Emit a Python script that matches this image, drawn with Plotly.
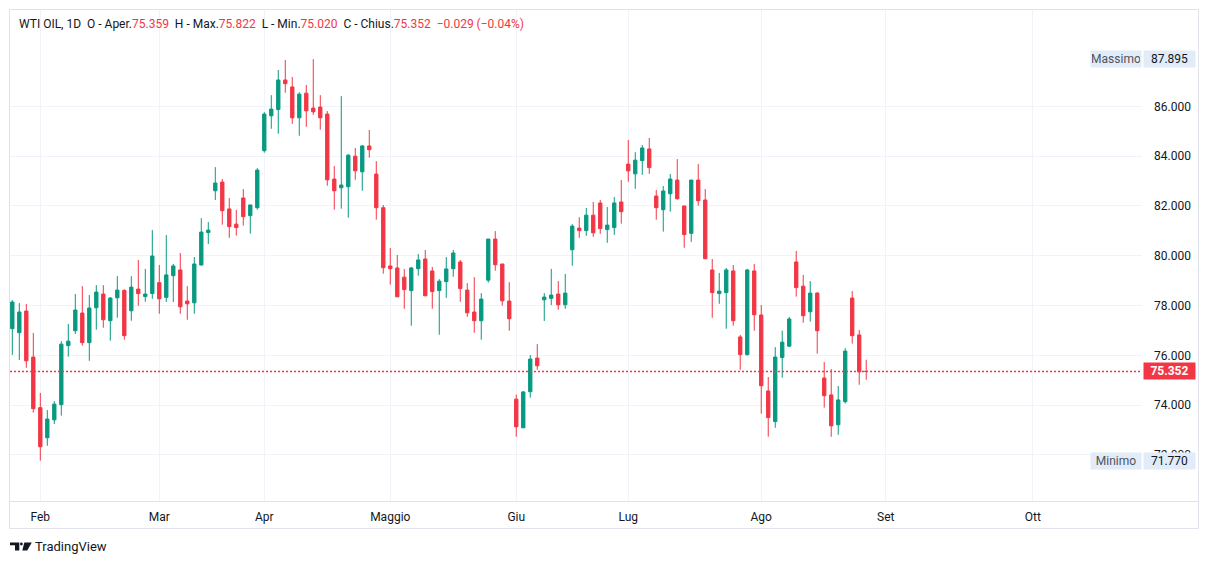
import plotly.graph_objects as go

# ---------------- data (daily bars) ----------------
opens = [77.07, 76.91, 77.78, 75.93, 73.90, 72.69, 73.41, 74.02, 76.39, 76.99,
         77.70, 76.51, 77.91, 78.46, 77.39, 78.31, 78.61, 77.79, 78.66, 78.36,
         78.48, 78.92, 78.33, 79.20, 79.43, 78.18, 78.11, 79.63, 80.93, 82.61,
         82.96, 81.88, 81.27, 82.32, 81.61, 81.93, 84.22, 85.62, 85.87, 87.06,
         86.78, 85.54, 86.53, 85.93, 85.97, 85.69, 83.08, 82.73, 82.77, 84.00,
         83.37, 84.41, 83.28, 81.93, 79.59, 79.51, 79.14, 78.60, 79.48, 79.87,
         79.39, 78.60, 78.96, 79.48, 79.75, 78.62, 77.74, 77.39, 79.02, 80.67,
         79.67, 78.18, 74.24, 73.09, 74.54, 75.89, 78.23, 78.29, 78.46, 78.03,
         80.24, 81.11, 81.01, 81.63, 82.12, 81.05, 81.13, 82.16, 83.68, 83.29,
         83.82, 84.29, 82.40, 81.85, 82.49, 83.04, 82.00, 80.90, 83.04, 82.24,
         79.43, 78.48, 78.52, 79.39, 76.74, 76.03, 79.39, 77.62, 74.57, 73.34,
         75.91, 76.37, 79.75, 78.78, 77.75, 78.50, 75.09, 74.41, 73.21, 74.14,
         78.30, 76.82, 75.359]
highs = [78.22, 78.10, 78.06, 76.90, 74.49, 73.80, 74.16, 76.57, 77.26, 78.46,
         78.78, 78.42, 78.82, 78.82, 78.34, 79.18, 78.65, 79.18, 79.83, 79.47,
         81.03, 79.63, 80.83, 79.67, 80.11, 78.78, 79.95, 81.51, 81.35, 83.56,
         83.08, 82.32, 81.84, 82.68, 82.04, 83.52, 85.77, 86.45, 87.46, 87.86,
         87.18, 86.57, 86.86, 87.895, 86.45, 85.81, 83.60, 86.41, 84.08, 84.33,
         84.45, 85.05, 83.80, 82.04, 80.31, 80.03, 79.47, 79.55, 80.07, 80.23,
         79.55, 79.06, 79.95, 80.23, 79.83, 78.90, 79.14, 78.50, 80.67, 80.99,
         79.67, 78.94, 74.42, 74.57, 76.01, 76.45, 78.50, 79.47, 78.98, 79.27,
         81.27, 81.55, 81.92, 82.16, 82.24, 81.96, 82.36, 83.04, 84.65, 84.16,
         84.45, 84.73, 82.64, 82.80, 83.28, 83.88, 82.00, 83.04, 83.68, 82.68,
         79.87, 79.31, 79.51, 79.63, 76.82, 79.47, 79.67, 78.02, 75.13, 76.33,
         76.99, 77.54, 80.19, 79.23, 78.98, 78.54, 75.73, 75.45, 74.77, 76.29,
         78.58, 77.02, 75.822]
lows = [76.02, 75.81, 75.50, 73.70, 71.77, 72.37, 73.24, 73.58, 75.95, 76.86,
        76.39, 75.78, 77.03, 77.11, 76.59, 77.51, 76.63, 77.39, 77.99, 78.15,
        78.27, 77.67, 78.14, 78.14, 77.67, 77.43, 77.67, 79.60, 80.47, 82.24,
        81.25, 80.72, 80.81, 81.21, 80.89, 81.85, 84.14, 85.10, 84.90, 86.55,
        85.30, 84.82, 85.18, 85.66, 85.06, 82.81, 81.85, 81.89, 81.53, 83.05,
        82.61, 83.94, 81.45, 79.28, 78.84, 78.35, 77.87, 77.19, 79.20, 78.39,
        77.87, 76.83, 78.31, 79.16, 78.15, 77.55, 76.91, 76.63, 78.92, 79.40,
        77.99, 76.99, 72.73, 73.09, 74.30, 75.42, 77.38, 78.02, 77.83, 77.87,
        79.60, 80.72, 80.80, 80.76, 80.88, 80.52, 80.84, 81.29, 82.97, 82.69,
        83.25, 83.29, 81.45, 80.97, 81.77, 82.25, 80.32, 80.56, 82.01, 79.88,
        77.51, 78.07, 77.07, 77.19, 75.42, 75.99, 76.99, 73.66, 72.73, 73.09,
        75.10, 76.33, 78.36, 77.31, 77.35, 76.07, 73.90, 72.73, 72.81, 74.06,
        76.47, 74.82, 75.020]
closes = [78.14, 77.74, 75.78, 73.86, 72.33, 73.44, 74.04, 76.45, 76.57, 77.82,
          76.51, 77.90, 78.54, 77.43, 78.30, 78.62, 76.79, 78.74, 78.48, 78.46,
          79.99, 78.27, 79.23, 79.59, 77.95, 78.07, 79.67, 80.95, 81.03, 82.92,
          81.81, 81.17, 81.13, 81.57, 82.04, 83.44, 85.69, 85.89, 87.06, 86.91,
          85.54, 86.49, 85.82, 85.78, 85.54, 83.05, 82.61, 82.84, 84.04, 83.41,
          84.41, 84.26, 81.93, 79.52, 79.48, 78.35, 78.64, 79.51, 79.83, 78.39,
          78.56, 78.98, 79.47, 80.11, 78.68, 77.71, 77.39, 78.26, 80.67, 79.64,
          78.19, 77.47, 73.13, 74.53, 75.85, 75.58, 78.34, 78.42, 78.03, 78.50,
          81.19, 81.01, 81.63, 80.92, 81.09, 81.23, 82.12, 81.77, 83.41, 83.84,
          84.33, 83.54, 81.93, 82.60, 83.08, 82.29, 80.85, 83.04, 82.21, 79.88,
          78.52, 78.58, 79.43, 77.39, 76.03, 79.43, 77.63, 74.78, 73.50, 75.93,
          76.53, 77.46, 78.72, 77.59, 78.50, 76.99, 74.38, 73.17, 74.21, 76.17,
          76.79, 75.34, 75.352]

month_labels = ["Feb", "Mar", "Apr", "Maggio", "Giu", "Lug", "Ago", "Set", "Ott"]
month_bar_index = [4, 21, 36, 54, 72, 88, 107, 124.8, 145.8]
price_ticks = [72, 74, 76, 78, 80, 82, 84, 86]

last_price = 75.352
period_high = 87.895
period_low = 71.770

# ---------------- style ----------------
GREEN = "#089981"
RED = "#f23645"
TEXT = "#131722"
GRID = "#f0f3fa"
BORDER = "#e0e3eb"
LABEL_BG = "#e1ecf8"
FONT = "Roboto"

W, H = 1209, 564
ML, MR, MT, MB = 10, 67, 10, 63
PW, PH = W - ML - MR, H - MT - MB


def px(x):
    return (x - ML) / PW


def py(y):
    return (H - MB - y) / PH


x_idx = list(range(len(opens)))

fig = go.Figure(
    go.Candlestick(
        x=x_idx, open=opens, high=highs, low=lows, close=closes,
        increasing=dict(line=dict(color=GREEN, width=1), fillcolor=GREEN),
        decreasing=dict(line=dict(color=RED, width=1), fillcolor=RED),
        whiskerwidth=0, hoverinfo="x+y", showlegend=False,
    )
)

shapes = [
    # outer frame
    dict(type="rect", xref="paper", yref="paper", x0=px(9.5), x1=px(1198.5),
         y0=py(528.5), y1=py(9.5), line=dict(color=BORDER, width=1), layer="below"),
    # time-axis separator
    dict(type="line", xref="paper", yref="paper", x0=px(9.5), x1=px(1198.5),
         y0=py(501.5), y1=py(501.5), line=dict(color=BORDER, width=1)),
    # last price dotted line
    dict(type="line", xref="paper", yref="y", x0=0, x1=1, y0=last_price, y1=last_price,
         line=dict(color=RED, width=1.4, dash="2px,2px")),
    # TradingView logo (approximation)
    dict(type="path", xref="paper", yref="paper", fillcolor=TEXT, line=dict(width=0),
         path=f"M {px(10)},{py(542.5)} L {px(19.3)},{py(542.5)} L {px(19.3)},{py(550.5)} "
              f"L {px(15)},{py(550.5)} L {px(15)},{py(545.3)} L {px(10)},{py(545.3)} Z"),
    dict(type="circle", xref="paper", yref="paper", fillcolor=TEXT, line=dict(width=0),
         x0=px(20), x1=px(22.8), y0=py(545.4), y1=py(542.6)),
    dict(type="path", xref="paper", yref="paper", fillcolor=TEXT, line=dict(width=0),
         path=f"M {px(24.3)},{py(542.5)} L {px(31.8)},{py(542.5)} L {px(27.2)},{py(550.5)} "
              f"L {px(22.3)},{py(550.5)} Z"),
]

hdr = (f"WTI OIL, 1D&nbsp;&nbsp;O - Aper.<span style='color:{RED}'>75.359</span>"
       f"&nbsp;&nbsp;H - Max.<span style='color:{RED}'>75.822</span>"
       f"&nbsp;&nbsp;L - Min.<span style='color:{RED}'>75.020</span>"
       f"&nbsp;&nbsp;C - Chius.<span style='color:{RED}'>75.352&nbsp;&nbsp;−0.029 (−0.04%)</span>")

annotations = [
    dict(text=hdr, xref="paper", yref="paper", x=px(17), y=py(24), xanchor="left",
         yanchor="middle", showarrow=False, font=dict(family=FONT, size=12, color=TEXT)),
    # high label
    dict(text="Massimo", xref="paper", yref="y", x=px(1142), y=period_high, xanchor="right",
         yanchor="middle", showarrow=False, bgcolor=LABEL_BG, width=48, height=14, borderpad=1,
         font=dict(family=FONT, size=12, color="#50535e")),
    dict(text=f"{period_high:.3f}", xref="paper", yref="y", x=px(1143), y=period_high,
         xanchor="left", yanchor="middle", showarrow=False, bgcolor=LABEL_BG, width=49,
         height=14, borderpad=1, font=dict(family=FONT, size=12, color=TEXT)),
    # low label
    dict(text="Minimo", xref="paper", yref="y", x=px(1142), y=period_low, xanchor="right",
         yanchor="middle", showarrow=False, bgcolor=LABEL_BG, width=48, height=14, borderpad=1,
         font=dict(family=FONT, size=12, color="#50535e")),
    dict(text=f"{period_low:.3f}", xref="paper", yref="y", x=px(1143), y=period_low,
         xanchor="left", yanchor="middle", showarrow=False, bgcolor=LABEL_BG, width=49,
         height=14, borderpad=1, font=dict(family=FONT, size=12, color=TEXT)),
    # last price label
    dict(text=f"<b>{last_price:.3f}</b>", xref="paper", yref="y", x=px(1143), y=last_price,
         xanchor="left", yanchor="middle", showarrow=False, bgcolor=RED, width=49,
         height=14, borderpad=1, font=dict(family=FONT, size=12, color="white")),
    # brand
    dict(text="TradingView", xref="paper", yref="paper", x=px(33), y=py(546.5),
         xanchor="left", yanchor="middle", showarrow=False,
         font=dict(family=FONT, size=13, color=TEXT)),
]

fig.update_layout(
    width=W, height=H,
    margin=dict(l=ML, r=MR, t=MT, b=MB, pad=0),
    paper_bgcolor="white", plot_bgcolor="white",
    font=dict(family=FONT, size=12, color=TEXT),
    showlegend=False, boxgap=0.32,
    shapes=shapes, annotations=annotations,
    xaxis=dict(
        range=[-0.33, 161.4], tickmode="array", tickvals=month_bar_index, ticktext=month_labels,
        showgrid=True, gridcolor=GRID, gridwidth=1, zeroline=False, showline=False,
        ticks="", ticklabelstandoff=7, rangeslider=dict(visible=False), fixedrange=True,
        tickfont=dict(family=FONT, size=12, color=TEXT),
    ),
    yaxis=dict(
        range=[70.15, 89.87], side="right", tickmode="array", tickvals=price_ticks,
        tickformat=".3f", showgrid=True, gridcolor=GRID, gridwidth=1, zeroline=False,
        showline=False, ticks="", ticklabelstandoff=11, fixedrange=True,
        tickfont=dict(family=FONT, size=12, color=TEXT),
    ),
)

fig.write_html("out.html")
